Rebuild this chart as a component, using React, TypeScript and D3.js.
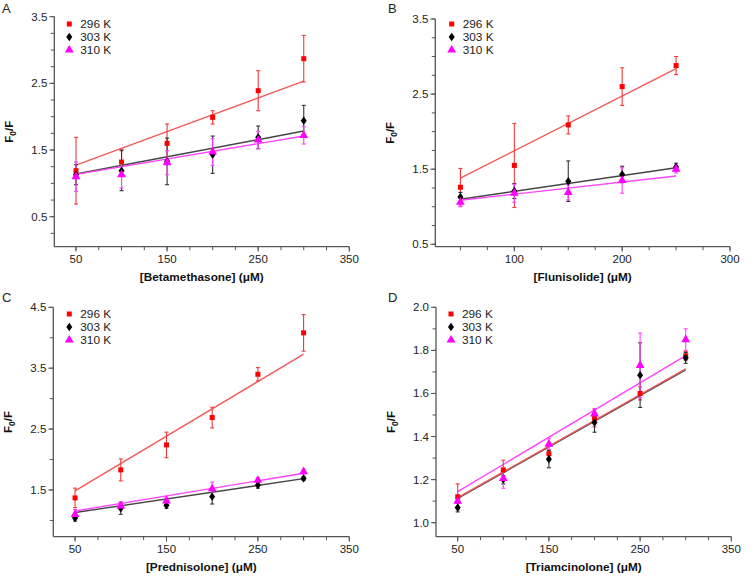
import React from "react";
import * as d3 from "d3";

// ---- data ----
const seriesNames = ["296 K", "303 K", "310 K"];
const xA = [50, 100, 150, 200, 250, 300];
const xB = [50, 100, 150, 200, 250];
const xC = [50, 100, 150, 200, 250, 300];
const xD = [50, 100, 150, 200, 250, 300];

const a296 = [1.19, 1.32, 1.6, 1.99, 2.39, 2.87];
const a296Err = [0.5, 0.19, 0.29, 0.1, 0.3, 0.35];
const a303 = [1.13, 1.19, 1.33, 1.43, 1.69, 1.94];
const a303Err = [0.15, 0.3, 0.35, 0.28, 0.17, 0.23];
const a310 = [1.1, 1.13, 1.31, 1.47, 1.65, 1.72];
const a310Err = [0.22, 0.2, 0.18, 0.2, 0.13, 0.13];
const aFit296 = [1.275, 2.535];
const aFit303 = [1.14, 1.785];
const aFit310 = [1.135, 1.71];

const b296 = [1.26, 1.55, 2.09, 2.6, 2.88];
const b296Err = [0.25, 0.56, 0.12, 0.25, 0.12];
const b303 = [1.13, 1.21, 1.34, 1.43, 1.53];
const b303Err = [0.06, 0.1, 0.27, 0.11, 0.05];
const b310 = [1.06, 1.18, 1.19, 1.35, 1.5];
const b310Err = [0.06, 0.12, 0.1, 0.17, 0.05];
const bFit296 = [1.38, 2.84];
const bFit303 = [1.1, 1.52];
const bFit310 = [1.087, 1.41];

const c296 = [1.37, 1.83, 2.24, 2.69, 3.4, 4.08];
const c296Err = [0.16, 0.18, 0.21, 0.17, 0.11, 0.3];
const c303 = [1.04, 1.2, 1.25, 1.39, 1.58, 1.69];
const c303Err = [0.05, 0.1, 0.05, 0.12, 0.05, 0.03];
const c310 = [1.1, 1.24, 1.32, 1.52, 1.66, 1.8];
const c310Err = [0.08, 0.06, 0.06, 0.11, 0.04, 0.04];
const cFit296 = [1.484, 3.73];
const cFit303 = [1.13, 1.686];
const cFit310 = [1.155, 1.774];

const d296 = [1.12, 1.245, 1.32, 1.485, 1.6, 1.775];
const d296Err = [0.06, 0.045, 0.02, 0.04, 0.03, 0.02];
const d303 = [1.07, 1.2, 1.295, 1.465, 1.685, 1.765];
const d303Err = [0.02, 0.02, 0.04, 0.045, 0.15, 0.025];
const d310 = [1.1, 1.205, 1.365, 1.505, 1.73, 1.85];
const d310Err = [0.03, 0.045, 0.025, 0.025, 0.15, 0.05];
const dFit296 = [1.116, 1.714];
const dFit303 = [1.113, 1.709];
const dFit310 = [1.144, 1.776];

const xTicksACD = [50, 150, 250, 350];
const xTicksB = [100, 200, 300];
const yTicksAB = [0.5, 1.5, 2.5, 3.5];
const yTicksC = [1.5, 2.5, 3.5, 4.5];
const yTicksD = [1.0, 1.2, 1.4, 1.6, 1.8, 2.0];

// ---- styles ----
const markerColors = ["#ff0000", "#000000", "#ff00ff"];
const fitColors = ["#f25a5a", "#454545", "#ff45ff"];
const errColors = ["#f03a3a", "#333333", "#ff40ff"];
const axisColor = "#555";
const FONT = "'Liberation Sans', Arial, sans-serif";

type Series = { y: number[]; err: number[]; fit: number[] };

type PanelProps = {
  letter: string;
  left: number; right: number; top: number; bottom: number;
  xDomain: [number, number];
  yDomain: [number, number];
  xs: number[];
  series: Series[];
  xTicks: number[];
  xMinorStep: number;
  yTicks: number[];
  yMinorStep: number;
  yFmt: (v: number) => string;
  xLabel: string;
  legendX: number;
  legendY: number;
  letterX: number;
  letterY: number;
  fitOrder: number[];
};

function Marker({ kind, x, y, color }: { kind: number; x: number; y: number; color: string }) {
  if (kind === 0) {
    return <rect x={x - 2.5} y={y - 2.5} width={5} height={5} fill={color} />;
  }
  if (kind === 1) {
    const p = d3.symbol().type(d3.symbolDiamond).size(20)();
    return <path d={p || ""} transform={`translate(${x},${y}) scale(1.25,1)`} fill={color} />;
  }
  const p = d3.symbol().type(d3.symbolTriangle).size(34)();
  return <path d={p || ""} transform={`translate(${x},${y})`} fill={color} />;
}

function Panel(props: PanelProps) {
  const { left, right, top, bottom } = props;
  const x = d3.scaleLinear().domain(props.xDomain).range([left, right]);
  const y = d3.scaleLinear().domain(props.yDomain).range([bottom, top]);
  const xMinor: number[] = [];
  for (let v = Math.ceil(props.xDomain[0] / props.xMinorStep) * props.xMinorStep; v <= props.xDomain[1] + 1e-9; v += props.xMinorStep) xMinor.push(v);
  const yMinor: number[] = [];
  for (let v = Math.ceil(props.yDomain[0] / props.yMinorStep - 1e-9) * props.yMinorStep; v <= props.yDomain[1] + 1e-9; v += props.yMinorStep) yMinor.push(+v.toFixed(4));
  const xFirst = props.xs[0];
  const xLast = props.xs[props.xs.length - 1];
  const line = d3.line<[number, number]>().x((d) => x(d[0])).y((d) => y(d[1]));
  const midX = (left + right) / 2;
  const midY = (top + bottom) / 2;
  return (
    <g fontFamily={FONT}>
      <text x={props.letterX} y={props.letterY} fontSize={13} fill="#222">{props.letter}</text>
      {/* axes */}
      <line x1={left} x2={left} y1={top} y2={bottom} stroke={axisColor} strokeWidth={1.3} />
      <line x1={left} x2={right} y1={bottom} y2={bottom} stroke={axisColor} strokeWidth={1.3} />
      {xMinor.map((v, i) => (
        <line key={"xm" + i} x1={x(v)} x2={x(v)} y1={bottom} y2={bottom + 3.5} stroke={axisColor} strokeWidth={1} />
      ))}
      {props.xTicks.map((v, i) => (
        <g key={"xt" + i}>
          <line x1={x(v)} x2={x(v)} y1={bottom} y2={bottom + 5} stroke={axisColor} strokeWidth={1} />
          <text x={x(v)} y={bottom + 16} fontSize={11.5} textAnchor="middle" fill="#222">{v}</text>
        </g>
      ))}
      {yMinor.map((v, i) => (
        <line key={"ym" + i} x1={left - 3.5} x2={left} y1={y(v)} y2={y(v)} stroke={axisColor} strokeWidth={1} />
      ))}
      {props.yTicks.map((v, i) => (
        <g key={"yt" + i}>
          <line x1={left - 5} x2={left} y1={y(v)} y2={y(v)} stroke={axisColor} strokeWidth={1} />
          <text x={left - 7} y={y(v) + 4} fontSize={11.5} textAnchor="end" fill="#222">{props.yFmt(v)}</text>
        </g>
      ))}
      <text x={midX} y={bottom + 34} fontSize={11.8} fontWeight="bold" textAnchor="middle" fill="#111">{props.xLabel}</text>
      <text transform={`translate(${left - 41},${midY}) rotate(-90)`} fontSize={11.5} fontWeight="bold" textAnchor="middle" fill="#111">
        F<tspan fontSize={8.5} dy={3}>0</tspan><tspan dy={-3}>/F</tspan>
      </text>
      {/* fit lines */}
      {props.fitOrder.map((k) => {
        const s = props.series[k];
        return (
          <path key={"fit" + k} d={line([[xFirst, s.fit[0]], [xLast, s.fit[1]]]) || ""} fill="none" stroke={fitColors[k]} strokeWidth={1.4} />
        );
      })}
      {/* error bars */}
      {props.series.map((s, k) => (
        <g key={"err" + k} stroke={errColors[k]} strokeWidth={1.1}>
          {props.xs.map((xv, i) => {
            const cx = x(xv);
            const y1 = y(s.y[i] + s.err[i]);
            const y2 = y(s.y[i] - s.err[i]);
            return (
              <g key={i}>
                <line x1={cx} x2={cx} y1={y1} y2={y2} />
                <line x1={cx - 2} x2={cx + 2} y1={y1} y2={y1} />
                <line x1={cx - 2} x2={cx + 2} y1={y2} y2={y2} />
              </g>
            );
          })}
        </g>
      ))}
      {/* markers */}
      {props.series.map((s, k) => (
        <g key={"mk" + k}>
          {props.xs.map((xv, i) => (
            <Marker key={i} kind={k} x={x(xv)} y={y(s.y[i])} color={markerColors[k]} />
          ))}
        </g>
      ))}
      {/* legend */}
      {seriesNames.map((n, k) => (
        <g key={"lg" + k}>
          <Marker kind={k} x={props.legendX} y={props.legendY + k * 13} color={markerColors[k]} />
          <text x={props.legendX + 11} y={props.legendY + k * 13 + 4} fontSize={11.8} fill="#222">{n}</text>
        </g>
      ))}
    </g>
  );
}

const fmt1 = (v: number) => d3.format(".1f")(v);

export default function App() {
  return (
    <svg width={752} height={579} style={{ position: "absolute", left: 0, top: 0, background: "#fff" }}>
      <rect width={752} height={579} fill="#fff" />
      <Panel
        letter="A" letterX={2} letterY={13}
        left={54.3} right={349.3} top={16.7} bottom={246.7}
        xDomain={[26.2, 350]} yDomain={[0.05, 3.5]}
        xs={xA}
        series={[
          { y: a296, err: a296Err, fit: aFit296 },
          { y: a303, err: a303Err, fit: aFit303 },
          { y: a310, err: a310Err, fit: aFit310 },
        ]}
        fitOrder={[0, 1, 2]}
        xTicks={xTicksACD} xMinorStep={25}
        yTicks={yTicksAB} yMinorStep={0.25} yFmt={fmt1}
        xLabel="[Betamethasone] (μM)"
        legendX={69.3} legendY={24}
      />
      <Panel
        letter="B" letterX={388} letterY={13}
        left={435.3} right={730} top={19} bottom={246.7}
        xDomain={[26.7, 300]} yDomain={[0.468, 3.5]}
        xs={xB}
        series={[
          { y: b296, err: b296Err, fit: bFit296 },
          { y: b303, err: b303Err, fit: bFit303 },
          { y: b310, err: b310Err, fit: bFit310 },
        ]}
        fitOrder={[0, 1, 2]}
        xTicks={xTicksB} xMinorStep={25}
        yTicks={yTicksAB} yMinorStep={0.25} yFmt={fmt1}
        xLabel="[Flunisolide] (μM)"
        legendX={451.7} legendY={24}
      />
      <Panel
        letter="C" letterX={2} letterY={302}
        left={53.3} right={349.3} top={307.3} bottom={536.7}
        xDomain={[26.2, 350]} yDomain={[0.733, 4.5]}
        xs={xC}
        series={[
          { y: c296, err: c296Err, fit: cFit296 },
          { y: c303, err: c303Err, fit: cFit303 },
          { y: c310, err: c310Err, fit: cFit310 },
        ]}
        fitOrder={[0, 1, 2]}
        xTicks={xTicksACD} xMinorStep={25}
        yTicks={yTicksC} yMinorStep={0.5} yFmt={fmt1}
        xLabel="[Prednisolone] (μM)"
        legendX={69.3} legendY={314}
      />
      <Panel
        letter="D" letterX={388} letterY={302}
        left={436} right={731.3} top={307.3} bottom={536.7}
        xDomain={[26.2, 350]} yDomain={[0.935, 2.0]}
        xs={xD}
        series={[
          { y: d296, err: d296Err, fit: dFit296 },
          { y: d303, err: d303Err, fit: dFit303 },
          { y: d310, err: d310Err, fit: dFit310 },
        ]}
        fitOrder={[1, 0, 2]}
        xTicks={xTicksACD} xMinorStep={25}
        yTicks={yTicksD} yMinorStep={0.1} yFmt={fmt1}
        xLabel="[Triamcinolone] (μM)"
        legendX={451} legendY={314}
      />
    </svg>
  );
}
